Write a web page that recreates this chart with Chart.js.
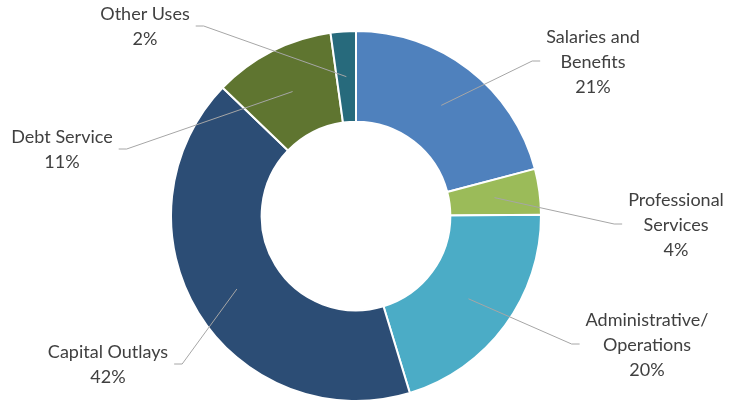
<!DOCTYPE html>
<html>
<head>
<meta charset="utf-8">
<script src="https://cdn.jsdelivr.net/npm/chart.js@4.4.1/dist/chart.umd.min.js"></script>
<style>
  html, body { margin: 0; padding: 0; background: #fff; }
  #wrap { width: 730px; height: 402px; position: relative; }
</style>
</head>
<body>
<div id="wrap"><canvas id="chart"></canvas></div>
<script>
// Spending by category, clockwise from 12 o'clock
const categories = [
  ["Salaries and", "Benefits"],
  ["Professional", "Services"],
  ["Administrative/", "Operations"],
  ["Capital Outlays"],
  ["Debt Service"],
  ["Other Uses"],
]
const shares = [20.9, 4.0, 20.4, 41.9, 10.6, 2.2]
const colors = ["#4F81BD", "#9BBB59", "#4BACC6", "#2C4D75", "#5F7530", "#276A7C"]

// where each label block sits, relative to the doughnut centre (px)
const labelOffsets = [[237, -154], [320, 9], [291, 129], [-248, 149], [-294, -66], [-211, -189]]

const font = "18px Lato"
const lineHeight = 25

// Draws the callout labels with their leader lines
const calloutPlugin = {
  id: "callouts",
  afterDatasetsDraw(chart) {
    const ctx = chart.ctx
    const arcs = chart.getDatasetMeta(0).data
    const total = shares.reduce((a, b) => a + b, 0)
    ctx.save()
    ctx.font = font
    arcs.forEach((arc, i) => {
      const lines = [...categories[i], Math.round((shares[i] / total) * 100) + "%"]
      const cx = arc.x + labelOffsets[i][0]
      const cy = arc.y + labelOffsets[i][1]
      const maxW = Math.max(...lines.map((l) => ctx.measureText(l).width))
      const firstY = cy - ((lines.length - 1) * lineHeight) / 2

      // leader line
      const anchor = arc.getCenterPoint()
      const right = labelOffsets[i][0] > 0
      const ex = right ? cx - maxW / 2 - 6 : cx + maxW / 2 + 6
      const ey = cy - 1
      const kx = right ? ex - 8 : ex + 8
      ctx.strokeStyle = "#A6A6A6"
      ctx.lineWidth = 1
      ctx.beginPath()
      ctx.moveTo(ex, ey)
      ctx.lineTo(kx, ey)
      ctx.lineTo(anchor.x, anchor.y)
      ctx.stroke()

      // text
      ctx.fillStyle = "#404040"
      ctx.textAlign = "center"
      ctx.textBaseline = "middle"
      lines.forEach((l, j) => ctx.fillText(l, cx, firstY + j * lineHeight))
    })
    ctx.restore()
  },
}

new Chart(document.getElementById("chart"), {
  type: "doughnut",
  data: {
    labels: categories.map((c) => c.join(" ")),
    datasets: [
      {
        data: shares,
        backgroundColor: colors,
        borderColor: "#ffffff",
        borderWidth: 2,
        hoverOffset: 0,
      },
    ],
  },
  options: {
    responsive: true,
    maintainAspectRatio: false,
    animation: false,
    cutout: "51%",
    layout: { padding: { top: 30, bottom: 0, left: 170, right: 188 } },
    plugins: {
      legend: { display: false },
      tooltip: { enabled: false },
    },
  },
  plugins: [calloutPlugin],
})
</script>
</body>
</html>
